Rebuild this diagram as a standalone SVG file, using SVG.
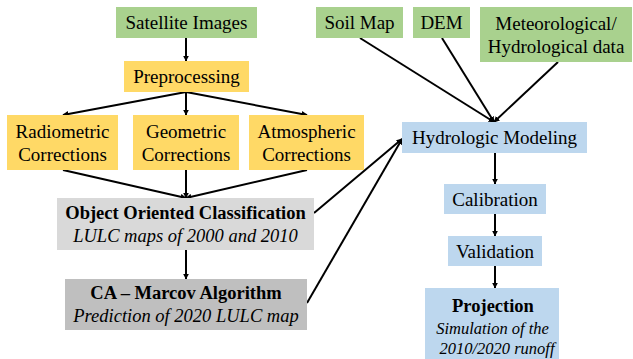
<svg xmlns="http://www.w3.org/2000/svg" width="633" height="359" viewBox="0 0 633 359">
<defs>
<marker id="ah" viewBox="0 0 10 10" refX="9" refY="5" markerWidth="6" markerHeight="6" markerUnits="userSpaceOnUse" orient="auto">
<path d="M0,0 L10,5 L0,10 z" fill="#000"/>
</marker>
<style>
text{font-size:19px;fill:#000;text-anchor:middle}
.b{font-weight:bold;font-size:18.5px}
.i{font-style:italic;font-size:18.5px}
.s{font-size:16.5px}
.g{fill:#a9d18e}
.y{fill:#ffd966}
.l{fill:#d9d9d9}
.d{fill:#bfbfbf}
.u{fill:#bdd7ee}
.c line{stroke:#000;stroke-width:2;marker-end:url(#ah)}
</style>
</defs>
<rect width="633" height="359" fill="#fff"/>
<g class="c" id="connectors">
<line x1="186" y1="38" x2="186" y2="61"/>
<line x1="186" y1="92" x2="63" y2="115"/>
<line x1="186" y1="92" x2="186" y2="115"/>
<line x1="186" y1="92" x2="307" y2="115"/>
<line x1="63" y1="170" x2="186" y2="198"/>
<line x1="186" y1="170" x2="186" y2="198"/>
<line x1="307" y1="170" x2="186" y2="198"/>
<line x1="186" y1="250" x2="186" y2="279"/>
<line x1="314" y1="213" x2="402" y2="139"/>
<line x1="307" y1="303" x2="402" y2="139"/>
<line x1="360" y1="38" x2="494" y2="122"/>
<line x1="442" y1="38" x2="494" y2="122"/>
<line x1="558" y1="62" x2="494" y2="122"/>
<line x1="495" y1="153" x2="495" y2="184"/>
<line x1="495" y1="214" x2="495" y2="236"/>
<line x1="495" y1="266" x2="495" y2="288"/>
</g>
<g font-family="'Liberation Serif', 'DejaVu Serif', serif">
<g id="satellite"><rect class="g" x="116" y="7" width="141" height="31"/><text x="186.5" y="28.5">Satellite Images</text></g>
<g id="preprocessing"><rect class="y" x="124" y="61" width="125" height="31"/><text x="186.5" y="83">Preprocessing</text></g>
<g id="radiometric"><rect class="y" x="7" y="115" width="111" height="55"/><text x="62.5" y="138">Radiometric</text><text x="62.5" y="160.5">Corrections</text></g>
<g id="geometric"><rect class="y" x="133" y="115" width="106" height="55"/><text x="186" y="138">Geometric</text><text x="186" y="160.5">Corrections</text></g>
<g id="atmospheric"><rect class="y" x="249" y="115" width="115" height="55"/><text x="306.5" y="138">Atmospheric</text><text x="306.5" y="160.5">Corrections</text></g>
<g id="ooc"><rect class="l" x="57" y="198" width="257" height="52"/><text class="b" x="185.5" y="219">Object Oriented Classification</text><text class="i" x="185.5" y="242">LULC maps of 2000 and 2010</text></g>
<g id="ca"><rect class="d" x="65" y="279" width="242" height="51"/><text class="b" x="186" y="299">CA – Marcov Algorithm</text><text class="i" x="186" y="322">Prediction of 2020 LULC map</text></g>
<g id="soil"><rect class="g" x="316" y="7" width="87" height="31"/><text x="359.5" y="28.5">Soil Map</text></g>
<g id="dem"><rect class="g" x="413" y="7" width="57" height="31"/><text x="441.5" y="28.5">DEM</text></g>
<g id="met"><rect class="g" x="480" y="7" width="152" height="55"/><text x="556" y="30">Meteorological/</text><text x="556" y="53">Hydrological data</text></g>
<g id="hydro"><rect class="u" x="402" y="122" width="185" height="31"/><text x="494.5" y="144">Hydrologic Modeling</text></g>
<g id="calibration"><rect class="u" x="444" y="184" width="102" height="30"/><text x="495" y="206">Calibration</text></g>
<g id="validation"><rect class="u" x="448" y="236" width="94" height="30"/><text x="495" y="258">Validation</text></g>
<g id="projection"><rect class="u" x="425" y="288" width="134" height="71"/><text class="b" x="493" y="311.5">Projection</text><text class="i s" x="492.5" y="333.5">Simulation of the</text><text class="i s" x="497" y="353.5">2010/2020 runoff</text></g>
</g>
</svg>
